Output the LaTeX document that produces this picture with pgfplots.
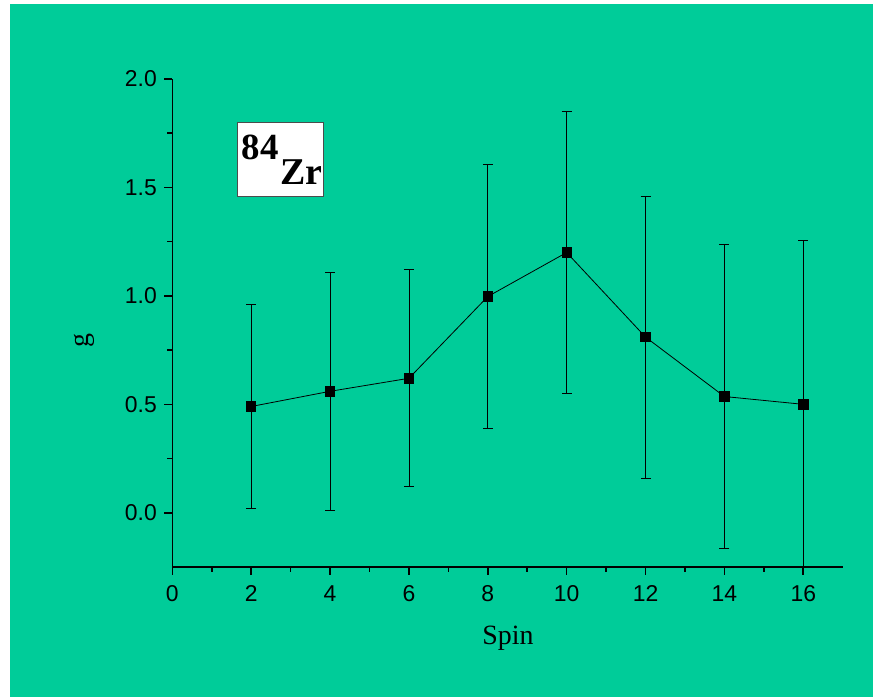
\documentclass[border=0pt]{standalone}
\usepackage{pgfplots}
\pgfplotsset{compat=1.18}
\usepackage{fontspec}
\setmainfont{Liberation Serif}
\newfontfamily\sansf{Liberation Sans}
\definecolor{panelgreen}{HTML}{00CC99}

% spin, g factor, error
\pgfplotstableread{
x    y     ey
2    0.49  0.47
4    0.56  0.55
6    0.62  0.50
8    0.997 0.61
10   1.20  0.65
12   0.81  0.65
14   0.536 0.70
16   0.50  0.755
}\gdata

\begin{document}
\begin{tikzpicture}
% page and panel background
\fill[white] (0,0) rectangle (873bp,697bp);
\fill[panelgreen] (10bp,-1bp) rectangle (874bp,693bp);

\begin{axis}[
  at={(172.3bp,130bp)}, anchor=south west,
  scale only axis, width=670.4bp, height=488bp,
  xmin=0, xmax=17, ymin=-0.25, ymax=2.0,
  axis x line*=bottom, axis y line*=left,
  axis line style={line width=1.6bp, -},
  xtick={0,2,...,16}, ytick={0,0.5,1.0,1.5,2.0},
  minor x tick num=1, minor y tick num=1,
  tick align=outside,
  major tick length=8bp, minor tick length=5bp,
  every tick/.style={line width=1.6bp, black},
  /pgf/number format/assume math mode=true,
  ticklabel style={font=\sansf\fontsize{23}{23}\selectfont},
  xticklabel style={yshift=-7bp},
  yticklabel style={xshift=-4bp, /pgf/number format/.cd, fixed, fixed zerofill, precision=1},
]
\addplot[black, line width=0.8bp,
  mark=square*, mark size=4.7bp, mark options={solid, fill=black},
  error bars/.cd, y dir=both, y explicit,
  error bar style={line width=0.8bp, black},
  error mark options={rotate=90, mark size=5bp, line width=1bp, black}]
  table[x=x, y=y, y error=ey] {\gdata};
\end{axis}

% axis titles
\node[anchor=base, font=\fontsize{28}{28}\selectfont] at (508bp,52bp) {Spin};
\node[rotate=90, inner sep=0pt, font=\fontsize{28}{28}\selectfont] at (84bp,356bp) {g};

% nucleus label
\draw[fill=white, draw=black!70, line width=0.8bp] (237.7bp,500.3bp) rectangle (323.7bp,575bp);
\node[anchor=base west, inner sep=0pt, font=\bfseries\fontsize{37}{37}\selectfont] at (241.5bp,537bp) {84};
\node[anchor=base west, inner sep=0pt, font=\bfseries\fontsize{38}{38}\selectfont] at (280bp,512bp) {Zr};

\pgfresetboundingbox
\path[use as bounding box] (0,0) rectangle (873bp,697bp);
\end{tikzpicture}
\end{document}
